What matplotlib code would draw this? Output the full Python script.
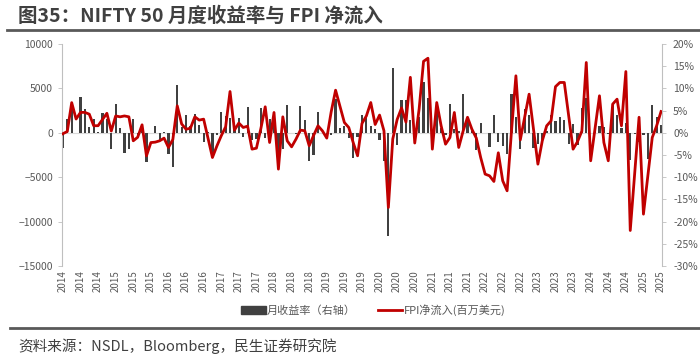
import numpy as np
import pandas as pd
import matplotlib
matplotlib.use("Agg")
import matplotlib.pyplot as plt
from matplotlib.lines import Line2D
from matplotlib.patches import Patch

plt.rcParams['font.family'] = ['Noto Sans CJK SC', 'DejaVu Sans']

# monthly data, Jan 2014 - May 2025
months = pd.date_range("2014-01-01", "2025-05-01", freq="MS")

# NIFTY 50 monthly return (%), right axis
nifty_ret = [
    -3.4, 3.1, 6.8, -0.1, 8.0, 5.3, 1.4, 3.0, 0.1, 4.5, 3.2, -3.6,   # 2014
    6.4, 1.1, -4.6, -3.6, 3.1, -0.8, 2.0, -6.6, 0.0, 1.5, -1.6, 0.1,  # 2015
    -4.8, -7.6, 10.8, 1.4, 4.0, 1.6, 4.2, 1.7, -2.0, 0.2, -4.7, -0.5, # 2016
    4.6, 3.7, 3.3, 1.4, 3.4, -1.0, 5.8, -1.6, -1.3, 5.6, -1.1, 3.0,   # 2017
    4.7, -4.9, -3.6, 6.2, 0.0, -0.2, 6.0, 2.9, -6.4, -5.0, 4.7, -0.1, # 2018
    -0.3, -0.4, 7.7, 1.1, 1.5, -1.1, -5.7, -0.9, 4.1, 3.5, 1.5, 0.9,  # 2019
    -1.7, -6.4, -23.2, 14.7, -2.8, 7.5, 7.5, 2.8, -1.2, 3.5, 11.4, 7.8, # 2020
    -2.5, 6.6, 1.1, -0.4, 6.5, 0.9, 0.3, 8.7, 2.8, 0.3, -3.9, 2.2,    # 2021
    -0.1, -3.1, 4.0, -2.1, -3.0, -4.8, 8.7, 3.5, -3.7, 5.4, 4.1, -3.5, # 2022
    -2.5, -2.0, 0.3, 4.1, 2.6, 3.5, 2.9, -2.5, 2.0, -2.8, 5.5, 7.9,   # 2023
    0.0, 1.2, 1.6, 1.2, -0.3, 6.6, 3.9, 1.1, 2.3, -6.2, -0.3, -2.0,   # 2024
    -0.6, -5.9, 6.3, 3.5, 1.7,                                        # 2025
]

# FPI net inflow (USD mn), left axis
fpi_flow = [
    -100, 150, 3400, 1550, 2300, 2300, 2100, 800, 800, 1500, 2200, 200,
    1900, 1800, 1900, 1800, -900, -500, 900, -2600, -1100, -1050, -900, -600,
    -1650, -750, 3040, 1000, 400, 520, 1800, 1430, 1540, -600, -2780, -1500,
    -340, 680, 4650, 300, 1100, 600, 750, -1840, -1730, 450, 2930, -1090,
    2290, -4090, 1800, -900, -1580, -710, 300, 230, -1460, -300, 790, 225,
    -600, 2360, 4800, 3000, 1160, 600, -1090, -2590, 1050, 1900, 3410, 940,
    2000, 225, -8410, -700, 1500, 2800, 1200, 6250, -1150, 2700, 8050, 8400,
    -1840, 3410, 790, -1280, -530, 2290, -1650, 200, 1750, 400, -600, -2800,
    -4650, -4840, -5480, -2250, -5400, -6530, 225, 6420, -800, 1800, 4350, 400,
    -3530, -900, 790, 1350, 5200, 5670, 5670, 1900, -1840, -1000, 200, 7920,
    -3150, 500, 4170, -1090, -3150, 3230, 3790, 790, 6900, -11000, -4600, 1750,
    -9160, -4800, -530, 790, 2400,
]

x = np.arange(len(months))
tick_pos = x[::4]
tick_lab = [str(m.year) for m in months[::4]]

grey_txt = '#595959'
axis_col = '#BFBFBF'

fig = plt.figure(figsize=(7, 3.55), dpi=100)
ax = fig.add_axes([0.0886, 0.2507, 0.857, 0.6253])
ax2 = ax.twinx()

# bars on right axis, line on left axis drawn on top
ax2.bar(x, nifty_ret, width=0.5, color='#404040', zorder=2)
ax2.axhline(0, color='#D9D9D9', lw=0.8, zorder=1)
ax.plot(x, fpi_flow, color='#C00000', lw=2.0, zorder=3)
ax.set_zorder(ax2.get_zorder() + 1)
ax.patch.set_visible(False)

ax.set_xlim(-0.2, len(x) - 0.8)
ax.set_ylim(-15000, 10000)
ax.set_yticks(np.arange(-15000, 10001, 5000))
ax2.set_ylim(-30, 20)
ax2.set_yticks(np.arange(-30, 21, 5))
ax2.set_yticklabels([f'{v}%' for v in range(-30, 21, 5)])

ax.set_xticks(tick_pos)
ax.set_xticklabels(tick_lab, rotation=90)

for a in (ax, ax2):
    a.spines['top'].set_visible(False)
    a.spines['bottom'].set_visible(False)
    a.spines['left'].set_color(axis_col)
    a.spines['right'].set_color(axis_col)
    a.tick_params(colors=grey_txt, labelsize=7.5, length=3, width=0.6)
    a.tick_params(axis='y', color=axis_col)
ax.tick_params(axis='x', length=0, labelsize=7, pad=3)
ax2.tick_params(axis='y', pad=5)
ax.spines['right'].set_visible(False)
ax2.spines['left'].set_visible(False)

handles = [Patch(color='#404040'), Line2D([0], [0], color='#C00000', lw=2.0)]
fig.legend(handles, ['月收益率（右轴）', 'FPI净流入(百万美元)'], loc='center',
           bbox_to_anchor=(0.533, 1 - 310 / 355), ncol=2, frameon=False,
           fontsize=8, labelcolor=grey_txt, handlelength=2.2, handleheight=0.7,
           handletextpad=0.1, columnspacing=2.0)

# title and footer
fig.text(0.026, 1 - 16 / 355, '图35：NIFTY 50 月度收益率与 FPI 净流入', fontsize=14,
         fontweight='bold', color='#404040', va='center', ha='left')
fig.add_artist(Line2D([0.01, 0.998], [1 - 30 / 355] * 2, color='#595959', lw=2))
fig.add_artist(Line2D([0.014, 0.998], [1 - 328 / 355] * 2, color='#595959', lw=2))
fig.text(0.026, 1 - 346 / 355, '资料来源：NSDL，Bloomberg，民生证券研究院', fontsize=10.5,
         color='#404040', va='center', ha='left')

fig.savefig('out.png', dpi=100)
